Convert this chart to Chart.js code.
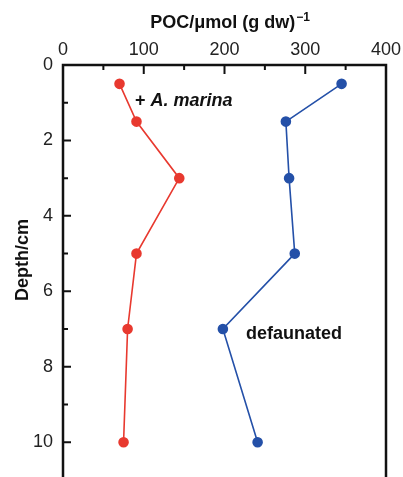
<!DOCTYPE html>
<html>
<head>
<meta charset="utf-8">
<script src="https://cdn.jsdelivr.net/npm/chart.js@4/dist/chart.umd.min.js"></script>
<style>
  html, body { margin: 0; padding: 0; background: #fff; overflow: hidden; }
  canvas { display: block; }
</style>
</head>
<body>
<canvas id="c" width="403" height="486" style="width:403px;height:486px"></canvas>
<script>
// Data
const depths = [0.5, 1.5, 3, 5, 7, 10];
const marinaPOC = [70, 91, 144, 91, 80, 75];
const defaunatedPOC = [345, 276, 280, 287, 198, 241];
const xTicks = [0, 100, 200, 300, 400];
const yTicks = [0, 2, 4, 6, 8, 10];
const xMinorTicks = [50, 150, 250, 350];
const yMinorTicks = [1, 3, 5, 7, 9];

const toPts = (xs) => xs.map((v, i) => ({ x: v, y: depths[i] }));

const FONT = "'Liberation Sans', Arial, Helvetica, sans-serif";

const framePlugin = {
  id: 'frame',
  afterDatasetsDraw(chart) {
    const { ctx, chartArea: a, scales } = chart;
    const xs = scales.x, ys = scales.y;
    ctx.save();
    ctx.strokeStyle = '#111';
    ctx.lineWidth = 2;
    ctx.beginPath();
    xTicks.forEach(v => { const px = xs.getPixelForValue(v); ctx.moveTo(px, a.top); ctx.lineTo(px, a.top + 9); });
    xMinorTicks.forEach(v => { const px = xs.getPixelForValue(v); ctx.moveTo(px, a.top); ctx.lineTo(px, a.top + 5); });
    yTicks.forEach(v => { const py = ys.getPixelForValue(v); ctx.moveTo(a.left, py); ctx.lineTo(a.left + 8, py); });
    yMinorTicks.forEach(v => { const py = ys.getPixelForValue(v); ctx.moveTo(a.left, py); ctx.lineTo(a.left + 5, py); });
    ctx.stroke();
    ctx.lineWidth = 2.5;
    ctx.strokeRect(a.left, a.top, a.right - a.left, a.bottom - a.top);
    ctx.restore();
  },
  afterDraw(chart) {
    const { ctx } = chart;
    ctx.save();
    ctx.fillStyle = '#111';
    ctx.textBaseline = 'alphabetic';
    const main = 'POC/\u03bcmol (g dw)';
    ctx.font = 'bold 18px ' + FONT;
    const w1 = ctx.measureText(main).width;
    ctx.font = 'bold 12px ' + FONT;
    const sup = '\u22121';
    const w2 = ctx.measureText(sup).width;
    const cx = 230;
    const start = cx - (w1 + w2 + 1) / 2;
    ctx.font = 'bold 18px ' + FONT;
    ctx.textAlign = 'left';
    ctx.fillText(main, start, 28);
    ctx.font = 'bold 12px ' + FONT;
    ctx.fillText(sup, start + w1 + 1, 21);
    ctx.save();
    ctx.translate(23, 260);
    ctx.rotate(-Math.PI / 2);
    ctx.font = 'bold 18px ' + FONT;
    ctx.textAlign = 'center';
    ctx.textBaseline = 'middle';
    ctx.fillText('Depth/cm', 0, 0);
    ctx.restore();
    ctx.textAlign = 'left';
    ctx.textBaseline = 'alphabetic';
    ctx.font = 'bold 18px ' + FONT;
    const plus = '+ ';
    ctx.fillText(plus, 135, 106);
    const pw = ctx.measureText(plus).width;
    ctx.font = 'italic bold 18px ' + FONT;
    ctx.fillText('A. marina', 135 + pw, 106);
    ctx.font = 'bold 18px ' + FONT;
    ctx.fillText('defaunated', 246, 339);
    ctx.restore();
  }
};

new Chart(document.getElementById('c'), {
  type: 'scatter',
  data: {
    datasets: [
      {
        label: '+ A. marina',
        data: toPts(marinaPOC),
        showLine: true,
        borderColor: '#e8392f',
        backgroundColor: '#e8392f',
        borderWidth: 1.6,
        pointRadius: 4.5,
        pointHoverRadius: 4.5,
        tension: 0
      },
      {
        label: 'defaunated',
        data: toPts(defaunatedPOC),
        showLine: true,
        borderColor: '#2450a8',
        backgroundColor: '#2450a8',
        borderWidth: 1.6,
        pointRadius: 4.5,
        pointHoverRadius: 4.5,
        tension: 0
      }
    ]
  },
  options: {
    responsive: false,
    maintainAspectRatio: false,
    devicePixelRatio: 1,
    animation: false,
    events: [],
    layout: { padding: { left: 0, right: 17, top: 0, bottom: 0 } },
    plugins: { legend: { display: false }, tooltip: { enabled: false } },
    scales: {
      x: {
        type: 'linear',
        position: 'top',
        min: 0, max: 400,
        afterBuildTicks: (s) => { s.ticks = xTicks.map(v => ({ value: v })); },
        afterFit: (s) => { s.height = 65; s.paddingLeft = 0; s.paddingRight = 0; s.paddingTop = 0; s.paddingBottom = 0; },
        grid: { display: false, drawTicks: false },
        border: { display: false },
        ticks: { color: '#222', font: { family: FONT, size: 18 }, padding: 4, maxRotation: 0 }
      },
      y: {
        type: 'linear',
        reverse: true,
        min: 0, max: 11,
        afterBuildTicks: (s) => { s.ticks = yTicks.map(v => ({ value: v })); },
        afterFit: (s) => { s.width = 63; s.paddingLeft = 0; s.paddingRight = 0; s.paddingTop = 0; s.paddingBottom = 0; },
        grid: { display: false, drawTicks: false },
        border: { display: false },
        ticks: { color: '#222', font: { family: FONT, size: 18 }, padding: 10 }
      }
    }
  },
  plugins: [framePlugin]
});
</script>
</body>
</html>
